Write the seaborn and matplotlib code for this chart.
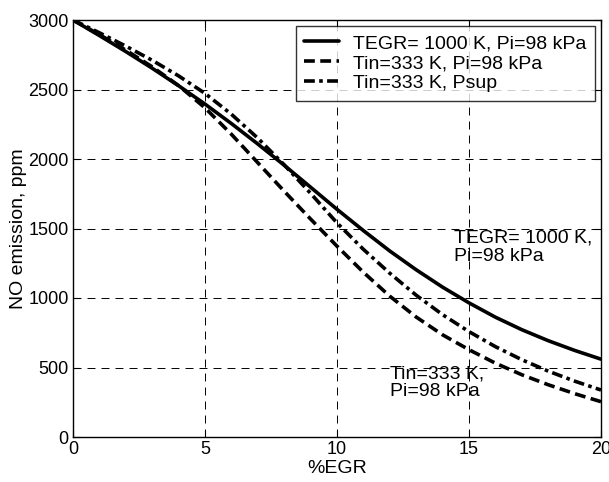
import matplotlib
matplotlib.use("Agg")
import matplotlib.pyplot as plt
import seaborn as sns
import pandas as pd

egr = list(range(0, 21))
no_tegr = [3000, 2888, 2773, 2653, 2527, 2395, 2255, 2108, 1955, 1797, 1638,
           1485, 1338, 1203, 1078, 965, 862, 772, 693, 623, 560]
no_tin = [3000, 2895, 2783, 2663, 2528, 2368, 2178, 1973, 1768, 1568, 1373,
          1185, 1013, 863, 735, 628, 531, 448, 376, 312, 254]
no_psup = [3000, 2908, 2812, 2710, 2598, 2472, 2322, 2150, 1958, 1753, 1540,
           1350, 1178, 1020, 880, 758, 650, 556, 474, 402, 338]
labels = ["TEGR= 1000 K, Pi=98 kPa", "Tin=333 K, Pi=98 kPa", "Tin=333 K, Psup"]
xticks = [0, 5, 10, 15, 20]
yticks = [0, 500, 1000, 1500, 2000, 2500, 3000]

df = pd.concat([
    pd.DataFrame({"egr": egr, "no": no_tegr, "case": labels[0]}),
    pd.DataFrame({"egr": egr, "no": no_tin, "case": labels[1]}),
    pd.DataFrame({"egr": egr, "no": no_psup, "case": labels[2]}),
])

sns.set_style("white")
plt.rcParams["font.family"] = ["Liberation Sans", "DejaVu Sans"]
plt.rcParams["font.size"] = 14
plt.rcParams["text.color"] = "black"
plt.rcParams["axes.labelcolor"] = "black"

fig = plt.figure(figsize=(6.09, 4.82), dpi=100)
ax = fig.add_axes([73/609, 1-437/482, (601-73)/609, (437-20)/482])

sns.lineplot(data=df, x="egr", y="no", hue="case", style="case",
             palette=["black"]*3,
             dashes={labels[0]: "", labels[1]: (3, 1.5), labels[2]: (3, 1.2, 1, 1.2)},
             linewidth=2.6, ax=ax, legend=True)

ax.set_xlim(0, 20)
ax.set_ylim(0, 3000)
ax.set_xticks(xticks)
ax.set_yticks(yticks)
ax.set_xlabel("%EGR", fontsize=14, labelpad=1)
ax.set_ylabel("NO emission, ppm", fontsize=14, labelpad=1)
ax.grid(True, color="black", linestyle=(0, (8.2, 6.2)), linewidth=0.7)
ax.tick_params(direction="in", length=5, labelsize=13, colors="black", pad=3,
               top=True, right=True, bottom=True, left=True)
for s in ax.spines.values():
    s.set_color("black")
    s.set_linewidth(1.0)

leg = ax.legend(loc="upper right", frameon=True, fancybox=False,
                edgecolor="black", fontsize=14, handlelength=1.8,
                handletextpad=0.7, borderpad=0.45, labelspacing=0.12,
                borderaxespad=0.3)
leg.get_frame().set_linewidth(1.0)
for h in leg.get_lines():
    h.set_linewidth(2.6)

ax.text(14.45, 1490, "TEGR= 1000 K,\nPi=98 kPa", fontsize=14, va="top", ha="left",
        linespacing=1.05)
ax.text(12.0, 515, "Tin=333 K,\nPi=98 kPa", fontsize=14, va="top", ha="left",
        linespacing=1.05)

fig.savefig("out.png", dpi=100)
